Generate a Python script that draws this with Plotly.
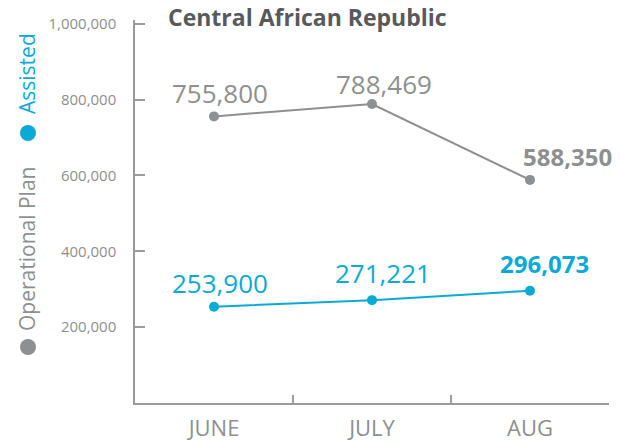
import plotly.graph_objects as go

months = ["JUNE", "JULY", "AUG"]
operational_plan = [755800, 788469, 588350]
assisted = [253900, 271221, 296073]
y_ticks = [200000, 400000, 600000, 800000, 1000000]
title_text = "Central African Republic"

GRAY = "#8e8f90"
CYAN = "#0aaad6"
AXIS = "#9a9a9a"
FONT = "Open Sans"

# plot-area pixel geometry (620x445 canvas)
L, R, T, B = 135, 609, 20, 403
W, H = R - L, B - T


def paper(xp, yp):
    return (xp - L) / W, (B - yp) / H


fig = go.Figure()
fig.add_trace(go.Scatter(x=months, y=operational_plan, mode="lines+markers",
                         line=dict(color=GRAY, width=2),
                         marker=dict(color=GRAY, size=10),
                         name="Operational Plan", showlegend=False))
fig.add_trace(go.Scatter(x=months, y=assisted, mode="lines+markers",
                         line=dict(color=CYAN, width=2),
                         marker=dict(color=CYAN, size=10),
                         name="Assisted", showlegend=False))

annotations = []
# data labels (offsets in pixels from each point)
op_shift = [(6, 23), (12, 20), (37, 23)]
as_shift = [(6, 24), (11, 27), (14, 27)]
for i, (m, v) in enumerate(zip(months, operational_plan)):
    last = i == len(months) - 1
    txt = f"{v:,}"
    annotations.append(dict(x=m, y=v, xref="x", yref="y", showarrow=False,
                            text=f"<b>{txt}</b>" if last else txt,
                            xshift=op_shift[i][0], yshift=op_shift[i][1],
                            font=dict(family=FONT, size=24 if last else 26, color=GRAY)))
for i, (m, v) in enumerate(zip(months, assisted)):
    last = i == len(months) - 1
    txt = f"{v:,}"
    annotations.append(dict(x=m, y=v, xref="x", yref="y", showarrow=False,
                            text=f"<b>{txt}</b>" if last else txt,
                            xshift=as_shift[i][0], yshift=as_shift[i][1],
                            font=dict(family=FONT, size=24 if last else 26, color=CYAN)))

# title
tx, ty = paper(166, 17)
annotations.append(dict(x=tx, y=ty, xref="paper", yref="paper", showarrow=False,
                        xanchor="left", yanchor="middle", text=f"<b>{title_text}</b>",
                        font=dict(family=FONT, size=23, color="#58595b")))

# rotated legend on the left
for (xp, yp, txt, col) in [
    (27, 249, "Operational Plan", GRAY),
    (27, 74, "Assisted", CYAN),
]:
    ax_, ay_ = paper(xp, yp)
    annotations.append(dict(x=ax_, y=ay_, xref="paper", yref="paper", showarrow=False,
                            xanchor="center", yanchor="middle", textangle=-90,
                            text=txt, font=dict(family=FONT, size=21, color=col)))

shapes = []
for (xp, yp, col) in [(28, 347, GRAY), (28, 133, CYAN)]:
    sx, sy = paper(xp, yp)
    shapes.append(dict(type="circle", xref="paper", yref="paper",
                       xsizemode="pixel", ysizemode="pixel", xanchor=sx, yanchor=sy,
                       x0=-8, x1=8, y0=-8, y1=8, fillcolor=col, line=dict(width=0)))

fig.update_layout(
    width=620, height=445,
    margin=dict(l=L, r=620 - R, t=T, b=445 - B),
    paper_bgcolor="white", plot_bgcolor="white",
    font=dict(family=FONT, color=GRAY),
    annotations=annotations,
    shapes=shapes,
    xaxis=dict(type="category", categoryorder="array", categoryarray=months,
               range=[-0.5, 2.5], tickson="boundaries", ticks="inside", ticklen=8,
               tickcolor=AXIS, tickwidth=1.5, showline=True, linecolor=AXIS, linewidth=1.5,
               showgrid=False, zeroline=False, ticklabelstandoff=5, automargin=False,
               tickfont=dict(family=FONT, size=22, color=GRAY)),
    yaxis=dict(range=[0, 1010000], tickvals=y_ticks,
               ticktext=[f"{v:,}" for v in y_ticks], ticks="inside", ticklen=10,
               tickcolor=AXIS, tickwidth=1.5, showline=True, linecolor=AXIS, linewidth=1.5,
               showgrid=False, zeroline=False, ticklabelstandoff=14, automargin=False,
               tickfont=dict(family=FONT, size=15, color=GRAY)),
)

fig.write_html("out.html", config={"displayModeBar": False},
               post_script="document.body.style.margin='0';document.body.style.overflow='hidden';")
